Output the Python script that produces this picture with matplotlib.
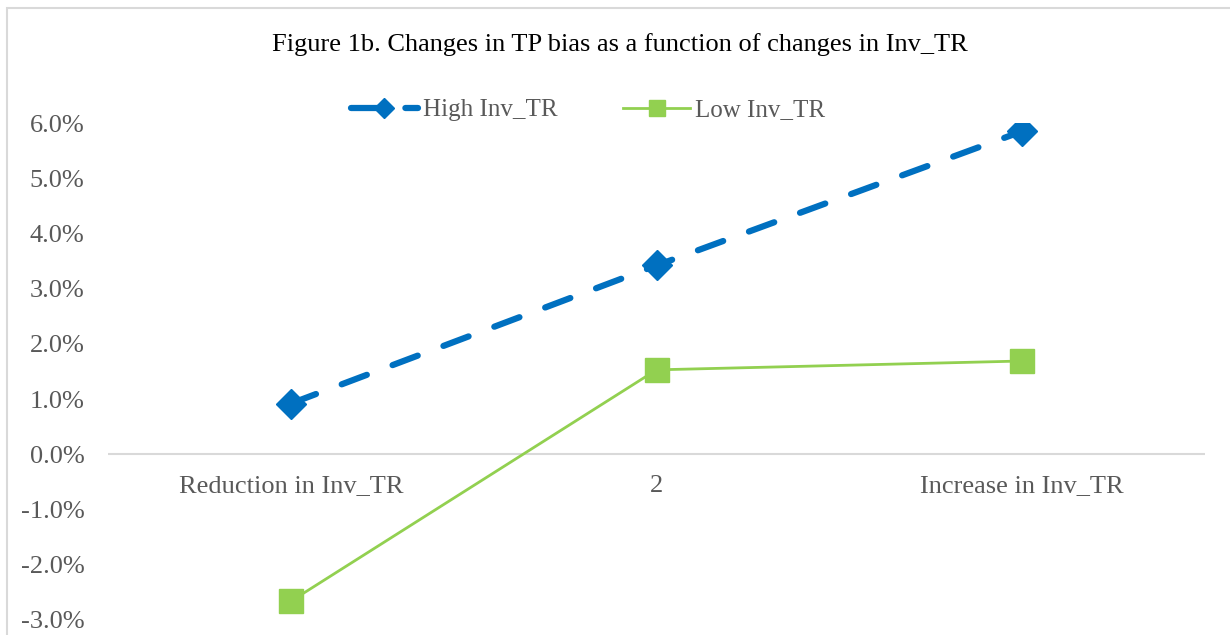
import matplotlib.pyplot as plt
from matplotlib.patches import Rectangle
from matplotlib.ticker import FuncFormatter

plt.rcParams['font.family'] = ['Liberation Serif', 'DejaVu Serif']
plt.rcParams['axes.unicode_minus'] = False

# data
categories = ['Reduction in Inv_TR', '2', 'Increase in Inv_TR']
high_inv_tr = [0.0092, 0.0342, 0.0585]
low_inv_tr = [-0.0266, 0.0153, 0.0169]

fs = 19

fig = plt.figure(figsize=(12.3, 6.35), dpi=100)
# chart border
fig.patches.append(Rectangle((7 / 1230, -0.1), 1.2, 1 - 8 / 635 + 0.1, transform=fig.transFigure,
                             fill=False, edgecolor='#d9d9d9', linewidth=1.5))

ax = fig.add_axes([108 / 1230, 1 - 620 / 635, (1205 - 108) / 1230, (620 - 123) / 635])
x = list(range(len(categories)))

ax.axhline(0, color='#d9d9d9', linewidth=1.5, zorder=1)
ax.plot(x, high_inv_tr, color='#0070C0', linewidth=4.5, dashes=(4.3, 4.4),
        dash_capstyle='round', marker='D', markersize=15, label='High Inv_TR', zorder=3)
ax.plot(x, low_inv_tr, color='#92D050', linewidth=2, marker='s', markersize=17,
        label='Low Inv_TR', zorder=3)

ax.set_xlim(-0.5, 2.5)
ax.set_ylim(-0.03, 0.06)
ax.set_yticks([-0.03, -0.02, -0.01, 0, 0.01, 0.02, 0.03, 0.04, 0.05, 0.06])
ax.yaxis.set_major_formatter(FuncFormatter(lambda v, p: '%.1f%%' % (v * 100)))
ax.set_xticks([])
for i, c in enumerate(categories):
    ax.text(i, -0.0058, c, ha='center', va='center', fontsize=fs, color='#595959')
ax.tick_params(axis='y', length=0, pad=17, labelsize=fs, labelcolor='#595959')
for s in ax.spines.values():
    s.set_visible(False)

fig.text(620 / 1230, 1 - 45 / 635, 'Figure 1b. Changes in TP bias as a function of changes in Inv_TR',
         ha='center', va='center', fontsize=fs, color='black')
fig.legend(loc='center', bbox_to_anchor=(588 / 1230, 1 - 110 / 635), ncol=2, frameon=False,
           fontsize=18, labelcolor='#595959', handlelength=2.7, handletextpad=0.2,
           columnspacing=2.6, markerscale=0.7)

fig.savefig('out.png', dpi=100)
